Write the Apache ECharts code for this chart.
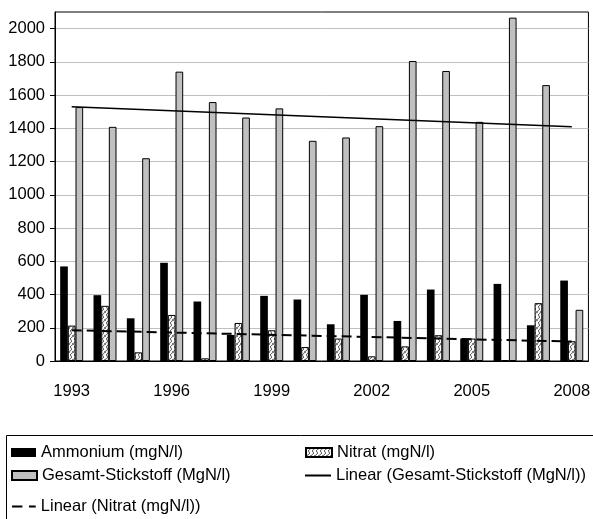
<!DOCTYPE html>
<html><head><meta charset="utf-8">
<script src="https://cdn.jsdelivr.net/npm/echarts@6/dist/echarts.min.js"></script>
<style>html,body{margin:0;padding:0;background:#fff}#c{width:593px;height:519px}</style>
</head><body><div id="c"></div>
<script>
const years = ['1993','1994','1995','1996','1997','1998','1999','2000','2001','2002','2003','2004','2005','2006','2007','2008'];
const ammonium = [569,396,257,591,358,157,392,370,221,398,241,430,135,464,215,484];
const nitrat = [213,332,52,277,16,229,185,84,135,28,88,155,135,6,348,119];
const gesamt = [1528,1409,1220,1741,1558,1465,1520,1325,1345,1413,1805,1745,1439,2066,1660,308];
const gesamtTrendEnds = [1530,1409];
const nitratTrendEnds = [185,117];
const yTicks = [0,200,400,600,800,1000,1200,1400,1600,1800,2000];

const FONT = "'Liberation Sans', Arial, sans-serif";
const FS = 16.5;
const names = {
  amm: 'Ammonium (mgN/l)',
  nit: 'Nitrat (mgN/l)',
  ges: 'Gesamt-Stickstoff (MgN/l)',
  linG: 'Linear (Gesamt-Stickstoff (MgN/l))',
  linN: 'Linear (Nitrat (mgN/l))'
};

// hatch pattern for Nitrat
const pc = document.createElement('canvas');
pc.width = 8; pc.height = 8;
const g = pc.getContext('2d');
g.fillStyle = '#fff'; g.fillRect(0,0,8,8);
g.strokeStyle = '#555'; g.lineWidth = 1;
g.beginPath();
g.moveTo(0,8); g.quadraticCurveTo(5,6, 3,4); g.quadraticCurveTo(1,2, 6,0);
g.moveTo(4,8); g.quadraticCurveTo(9,6, 7,4); g.quadraticCurveTo(5,2, 10,0);
g.moveTo(-4,8); g.quadraticCurveTo(1,6, -1,4); g.quadraticCurveTo(-3,2, 2,0);
g.stroke();
const hatch = {image: pc, repeat: 'repeat'};

function leg(name, left, top, icon, w, h) {
  return {orient: 'vertical', left: left, top: top, padding: 0, itemWidth: w, itemHeight: h,
    textStyle: {fontSize: FS, color: '#000', fontFamily: FONT},
    data: [{name: name, icon: icon}]};
}

const chart = echarts.init(document.getElementById('c'), null, {renderer: 'canvas'});
chart.setOption({
  animation: false,
  backgroundColor: '#fff',
  textStyle: {fontFamily: FONT},
  grid: {left: 55, right: 1, top: 12, bottom: 158, show: true, borderColor: '#000', borderWidth: 1, backgroundColor: 'transparent'},
  xAxis: {
    type: 'category', data: years,
    axisLine: {lineStyle: {color: '#000', width: 1}},
    axisTick: {interval: 0, length: 6, lineStyle: {color: '#000'}},
    axisLabel: {interval: 2, fontSize: FS, color: '#000', margin: 22, fontFamily: FONT},
    splitLine: {show: false}
  },
  yAxis: {
    type: 'value', min: 0, max: 2100, interval: 200,
    axisLine: {show: true, lineStyle: {color: '#000', width: 1}},
    axisTick: {show: true, length: 5, customValues: yTicks, lineStyle: {color: '#000'}},
    axisLabel: {fontSize: FS, color: '#000', margin: 10, customValues: yTicks, fontFamily: FONT,
                formatter: v => String(v)},
    splitLine: {show: true, lineStyle: {color: '#c0c0c0', width: 1}}
  },
  legend: [
    leg(names.amm, 11, 444, 'rect', 25, 9),
    leg(names.ges, 11, 467, 'rect', 25, 9),
    leg(names.linN, 12, 498, 'path://M0,0 H10.4 V2 H0 Z M17,0 H23.7 V2 H17 Z', 24, 2),
    leg(names.nit, 305, 444, 'rect', 26, 9),
    leg(names.linG, 305, 467, 'rect', 26, 2)
  ],
  graphic: [{
    type: 'rect', left: 4, top: 433, silent: true,
    shape: {x: 0, y: 0, width: 588, height: 120},
    style: {fill: 'none', stroke: '#000', lineWidth: 1}
  }],
  series: [
    {name: names.amm, type: 'bar', data: ammonium, barGap: '0%', barCategoryGap: '31%',
     itemStyle: {color: '#000'}},
    {name: names.nit, type: 'bar', data: nitrat,
     itemStyle: {color: hatch, borderColor: '#000', borderWidth: 1}},
    {name: names.ges, type: 'bar', data: gesamt,
     itemStyle: {color: '#c0c0c0', borderColor: '#000', borderWidth: 1}},
    {name: names.linG, type: 'line', symbol: 'none', z: 5,
     data: [[years[0], gesamtTrendEnds[0]], [years[years.length-1], gesamtTrendEnds[1]]],
     lineStyle: {color: '#000', width: 1.5}, itemStyle: {color: '#000'}},
    {name: names.linN, type: 'line', symbol: 'none', z: 5,
     data: [[years[0], nitratTrendEnds[0]], [years[years.length-1], nitratTrendEnds[1]]],
     lineStyle: {color: '#000', width: 2, type: [10,5]}, itemStyle: {color: '#000'}}
  ]
});
</script></body></html>
